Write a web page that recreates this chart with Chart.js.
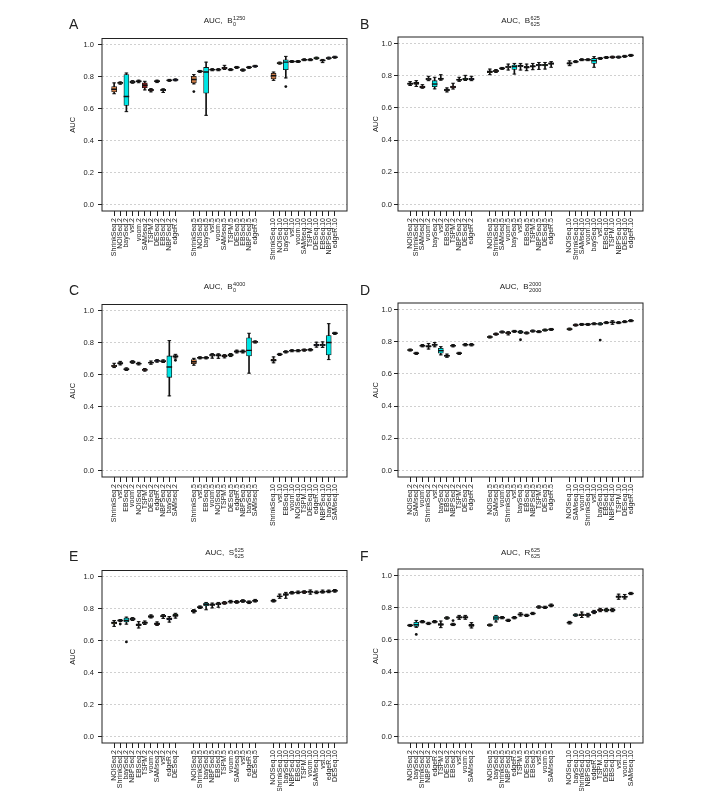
<!doctype html>
<html>
<head>
<meta charset="utf-8">
<title>AUC boxplots</title>
<script src="https://cdn.jsdelivr.net/npm/chart.js@4.4.0/dist/chart.umd.min.js"></script>
<style>
  html, body { margin: 0; padding: 0; background: #fff; overflow: hidden; }
  body { width: 719px; height: 791px; position: relative; font-family: "Liberation Sans", Arial, Helvetica, sans-serif; color: #222; }
  canvas { position: absolute; }
  .letter { position: absolute; font-size: 14px; line-height: 14px; }
  .ttl { position: absolute; font-size: 8px; line-height: 8px; white-space: nowrap; transform: translateX(-50%); }
  .ss { display: inline-block; vertical-align: middle; font-size: 5.5px; line-height: 6px; margin-left: 0.5px; }
  .ss span { display: block; }
</style>
</head>
<body>
<script>
// group suffixes shown after each method name
const sizes = ['2', '5', '10'];
const yTicks = [0, 0.2, 0.4, 0.6, 0.8, 1.0];

// box stats per method: [lower whisker, q1, median, q3, upper whisker]
const methodsA = ['ShrinkSeq', 'NOISeq', 'baySeq', 'vst', 'voom', 'SAMseq', 'TSPM', 'DESeq', 'EBSeq', 'NBPSeq', 'edgeR'];
const statsA = [
  [0.694, 0.706, 0.722, 0.739, 0.762], [0.754, 0.758, 0.762, 0.765, 0.768], [0.582, 0.621, 0.677, 0.814, 0.824],
  [0.760, 0.764, 0.768, 0.772, 0.776], [0.763, 0.768, 0.772, 0.775, 0.779], [0.718, 0.731, 0.747, 0.762, 0.772],
  [0.706, 0.712, 0.718, 0.722, 0.726], [0.764, 0.768, 0.772, 0.776, 0.779], [0.702, 0.712, 0.718, 0.721, 0.725],
  [0.772, 0.775, 0.778, 0.781, 0.784], [0.775, 0.778, 0.781, 0.784, 0.787],
  [0.756, 0.762, 0.783, 0.803, 0.814], [0.828, 0.831, 0.834, 0.837, 0.840], [0.559, 0.698, 0.830, 0.859, 0.892],
  [0.838, 0.842, 0.845, 0.848, 0.851], [0.838, 0.842, 0.845, 0.848, 0.851], [0.846, 0.851, 0.855, 0.859, 0.872],
  [0.839, 0.842, 0.845, 0.848, 0.851], [0.853, 0.856, 0.859, 0.862, 0.865], [0.836, 0.840, 0.843, 0.846, 0.849],
  [0.853, 0.856, 0.859, 0.862, 0.865], [0.861, 0.864, 0.867, 0.869, 0.872],
  [0.778, 0.787, 0.807, 0.822, 0.830], [0.880, 0.883, 0.886, 0.889, 0.892], [0.793, 0.845, 0.892, 0.907, 0.928],
  [0.890, 0.893, 0.896, 0.899, 0.902], [0.890, 0.893, 0.896, 0.899, 0.902], [0.901, 0.904, 0.907, 0.910, 0.913],
  [0.901, 0.904, 0.907, 0.910, 0.913], [0.911, 0.914, 0.917, 0.920, 0.923], [0.889, 0.898, 0.903, 0.906, 0.909],
  [0.911, 0.914, 0.917, 0.920, 0.923], [0.917, 0.920, 0.923, 0.926, 0.929]
];
const outliersA = [[11, 0.708], [24, 0.739]];

const methodsB = ['NOISeq', 'ShrinkSeq', 'SAMseq', 'voom', 'baySeq', 'vst', 'EBSeq', 'TSPM', 'NBPSeq', 'DESeq', 'edgeR'];
const statsB = [
  [0.739, 0.745, 0.750, 0.756, 0.763], [0.733, 0.745, 0.753, 0.758, 0.769], [0.722, 0.726, 0.730, 0.735, 0.744],
  [0.769, 0.774, 0.779, 0.783, 0.796], [0.718, 0.732, 0.748, 0.769, 0.790], [0.772, 0.777, 0.781, 0.785, 0.806],
  [0.699, 0.705, 0.711, 0.716, 0.724], [0.717, 0.724, 0.730, 0.736, 0.753], [0.765, 0.771, 0.775, 0.779, 0.790],
  [0.770, 0.775, 0.779, 0.783, 0.802], [0.769, 0.774, 0.779, 0.783, 0.796],
  [0.806, 0.819, 0.825, 0.830, 0.841], [0.820, 0.825, 0.829, 0.833, 0.838], [0.839, 0.842, 0.845, 0.848, 0.851],
  [0.835, 0.848, 0.854, 0.860, 0.872], [0.810, 0.839, 0.856, 0.866, 0.876], [0.835, 0.856, 0.862, 0.866, 0.876],
  [0.831, 0.846, 0.852, 0.858, 0.872], [0.837, 0.852, 0.858, 0.863, 0.876], [0.839, 0.860, 0.866, 0.870, 0.882],
  [0.841, 0.860, 0.866, 0.870, 0.882], [0.852, 0.870, 0.876, 0.880, 0.887],
  [0.862, 0.871, 0.876, 0.881, 0.892], [0.881, 0.884, 0.887, 0.890, 0.893], [0.893, 0.896, 0.899, 0.902, 0.905],
  [0.893, 0.896, 0.899, 0.902, 0.905], [0.852, 0.876, 0.893, 0.907, 0.918], [0.901, 0.904, 0.907, 0.910, 0.913],
  [0.907, 0.910, 0.913, 0.916, 0.919], [0.909, 0.912, 0.915, 0.918, 0.921], [0.909, 0.912, 0.915, 0.918, 0.921],
  [0.914, 0.917, 0.920, 0.923, 0.926], [0.920, 0.923, 0.926, 0.929, 0.932]
];
const outliersB = [];

const methodsC = ['ShrinkSeq', 'vst', 'EBSeq', 'voom', 'NOISeq', 'TSPM', 'DESeq', 'edgeR', 'NBPSeq', 'baySeq', 'SAMseq'];
const statsC = [
  [0.645, 0.651, 0.656, 0.661, 0.672], [0.662, 0.667, 0.672, 0.676, 0.684], [0.627, 0.631, 0.635, 0.639, 0.643],
  [0.672, 0.676, 0.680, 0.684, 0.688], [0.662, 0.666, 0.670, 0.674, 0.678], [0.623, 0.627, 0.631, 0.635, 0.639],
  [0.666, 0.672, 0.676, 0.680, 0.686], [0.679, 0.683, 0.687, 0.691, 0.695], [0.677, 0.681, 0.685, 0.689, 0.693],
  [0.468, 0.584, 0.649, 0.718, 0.814], [0.705, 0.710, 0.714, 0.720, 0.728],
  [0.660, 0.670, 0.682, 0.695, 0.703], [0.700, 0.704, 0.707, 0.710, 0.713], [0.700, 0.704, 0.707, 0.710, 0.713],
  [0.704, 0.716, 0.724, 0.728, 0.732], [0.703, 0.716, 0.722, 0.727, 0.731], [0.706, 0.713, 0.718, 0.722, 0.726],
  [0.714, 0.719, 0.724, 0.728, 0.733], [0.737, 0.742, 0.746, 0.750, 0.754], [0.737, 0.742, 0.746, 0.750, 0.754],
  [0.610, 0.718, 0.753, 0.831, 0.860], [0.799, 0.803, 0.806, 0.809, 0.812],
  [0.675, 0.685, 0.691, 0.697, 0.712], [0.721, 0.725, 0.728, 0.731, 0.734], [0.737, 0.741, 0.744, 0.747, 0.750],
  [0.744, 0.748, 0.751, 0.754, 0.757], [0.744, 0.748, 0.751, 0.754, 0.757], [0.748, 0.752, 0.755, 0.758, 0.761],
  [0.750, 0.754, 0.757, 0.760, 0.763], [0.773, 0.781, 0.786, 0.791, 0.804], [0.771, 0.781, 0.786, 0.791, 0.806],
  [0.695, 0.724, 0.802, 0.845, 0.920], [0.853, 0.857, 0.860, 0.863, 0.866]
];
const outliersC = [[10, 0.691]];

const methodsD = ['NOISeq', 'SAMseq', 'voom', 'ShrinkSeq', 'vst', 'baySeq', 'EBSeq', 'NBPSeq', 'TSPM', 'DESeq', 'edgeR'];
const statsD = [
  [0.742, 0.745, 0.748, 0.751, 0.754], [0.721, 0.725, 0.728, 0.731, 0.734], [0.768, 0.772, 0.775, 0.778, 0.782],
  [0.754, 0.766, 0.771, 0.776, 0.789], [0.768, 0.777, 0.781, 0.785, 0.795], [0.718, 0.728, 0.744, 0.759, 0.769],
  [0.703, 0.709, 0.713, 0.717, 0.723], [0.768, 0.772, 0.775, 0.778, 0.782], [0.721, 0.725, 0.728, 0.731, 0.734],
  [0.774, 0.778, 0.781, 0.784, 0.788], [0.774, 0.778, 0.781, 0.784, 0.788],
  [0.823, 0.826, 0.829, 0.832, 0.835], [0.841, 0.844, 0.847, 0.850, 0.853], [0.854, 0.857, 0.860, 0.863, 0.866],
  [0.842, 0.850, 0.854, 0.858, 0.862], [0.858, 0.861, 0.864, 0.867, 0.870], [0.852, 0.856, 0.860, 0.864, 0.868],
  [0.848, 0.851, 0.854, 0.857, 0.860], [0.860, 0.863, 0.866, 0.869, 0.872], [0.856, 0.859, 0.862, 0.865, 0.868],
  [0.866, 0.869, 0.872, 0.875, 0.878], [0.870, 0.873, 0.876, 0.879, 0.882],
  [0.872, 0.875, 0.878, 0.881, 0.884], [0.897, 0.900, 0.903, 0.906, 0.909], [0.901, 0.904, 0.907, 0.910, 0.913],
  [0.901, 0.904, 0.907, 0.910, 0.913], [0.905, 0.908, 0.911, 0.914, 0.917], [0.904, 0.907, 0.910, 0.914, 0.917],
  [0.912, 0.915, 0.918, 0.921, 0.924], [0.908, 0.916, 0.920, 0.923, 0.930], [0.912, 0.915, 0.918, 0.921, 0.924],
  [0.918, 0.921, 0.924, 0.927, 0.930], [0.924, 0.927, 0.930, 0.933, 0.936]
];
const outliersD = [[16, 0.812], [27, 0.810]];

const methodsE = ['NOISeq', 'ShrinkSeq', 'baySeq', 'NBPSeq', 'EBSeq', 'TSPM', 'voom', 'SAMseq', 'vst', 'edgeR', 'DESeq'];
const statsE = [
  [0.690, 0.706, 0.713, 0.719, 0.727], [0.721, 0.724, 0.727, 0.730, 0.733], [0.704, 0.718, 0.727, 0.742, 0.748],
  [0.727, 0.731, 0.736, 0.741, 0.745], [0.680, 0.694, 0.700, 0.706, 0.720], [0.702, 0.708, 0.713, 0.718, 0.724],
  [0.743, 0.747, 0.752, 0.757, 0.762], [0.696, 0.701, 0.707, 0.713, 0.718], [0.740, 0.749, 0.754, 0.759, 0.764],
  [0.717, 0.731, 0.738, 0.744, 0.752], [0.742, 0.752, 0.758, 0.766, 0.772],
  [0.775, 0.780, 0.785, 0.790, 0.795], [0.802, 0.806, 0.810, 0.814, 0.818], [0.794, 0.820, 0.829, 0.836, 0.840],
  [0.806, 0.821, 0.826, 0.831, 0.836], [0.810, 0.826, 0.831, 0.836, 0.840], [0.829, 0.833, 0.837, 0.841, 0.845],
  [0.837, 0.841, 0.845, 0.849, 0.853], [0.835, 0.839, 0.843, 0.847, 0.851], [0.841, 0.845, 0.849, 0.853, 0.857],
  [0.833, 0.837, 0.841, 0.845, 0.849], [0.843, 0.847, 0.851, 0.855, 0.859],
  [0.843, 0.847, 0.851, 0.855, 0.859], [0.866, 0.874, 0.878, 0.882, 0.892], [0.866, 0.884, 0.890, 0.895, 0.903],
  [0.893, 0.897, 0.901, 0.905, 0.909], [0.895, 0.899, 0.903, 0.907, 0.911], [0.897, 0.901, 0.905, 0.909, 0.913],
  [0.892, 0.902, 0.907, 0.911, 0.918], [0.895, 0.899, 0.903, 0.907, 0.911], [0.899, 0.903, 0.907, 0.911, 0.917],
  [0.901, 0.905, 0.909, 0.913, 0.917], [0.905, 0.909, 0.913, 0.917, 0.921]
];
const outliersE = [[1, 0.705], [2, 0.593]];

const methodsF = ['NOISeq', 'baySeq', 'ShrinkSeq', 'NBPSeq', 'edgeR', 'TSPM', 'DESeq', 'EBSeq', 'vst', 'voom', 'SAMseq'];
const statsF = [
  [0.684, 0.687, 0.690, 0.693, 0.696], [0.678, 0.684, 0.694, 0.709, 0.721], [0.706, 0.709, 0.713, 0.717, 0.720],
  [0.695, 0.699, 0.702, 0.705, 0.709], [0.706, 0.709, 0.713, 0.717, 0.720], [0.676, 0.690, 0.696, 0.702, 0.717],
  [0.729, 0.733, 0.736, 0.739, 0.743], [0.689, 0.692, 0.696, 0.700, 0.703], [0.728, 0.735, 0.740, 0.745, 0.752],
  [0.728, 0.735, 0.740, 0.745, 0.752], [0.674, 0.684, 0.690, 0.696, 0.707],
  [0.686, 0.689, 0.692, 0.695, 0.698], [0.711, 0.723, 0.736, 0.748, 0.752], [0.731, 0.735, 0.738, 0.741, 0.745],
  [0.714, 0.718, 0.721, 0.724, 0.728], [0.731, 0.735, 0.738, 0.741, 0.745], [0.748, 0.754, 0.758, 0.762, 0.768],
  [0.745, 0.749, 0.752, 0.755, 0.759], [0.757, 0.761, 0.764, 0.767, 0.771], [0.797, 0.801, 0.804, 0.807, 0.811],
  [0.795, 0.799, 0.802, 0.805, 0.809], [0.806, 0.810, 0.814, 0.818, 0.822],
  [0.699, 0.703, 0.707, 0.711, 0.715], [0.747, 0.751, 0.754, 0.757, 0.761], [0.739, 0.750, 0.756, 0.762, 0.773],
  [0.743, 0.750, 0.754, 0.758, 0.765], [0.763, 0.769, 0.773, 0.777, 0.783], [0.775, 0.780, 0.785, 0.790, 0.796],
  [0.775, 0.780, 0.785, 0.790, 0.796], [0.775, 0.780, 0.785, 0.790, 0.796], [0.852, 0.863, 0.868, 0.873, 0.884],
  [0.854, 0.864, 0.868, 0.872, 0.882], [0.881, 0.885, 0.888, 0.891, 0.895]
];
const outliersF = [[1, 0.634], [7, 0.720]];

// fill colour of each method's box
const methodColors = {
  ShrinkSeq: '#d2804a', NOISeq: '#8c7b2c', baySeq: '#00e5e5', vst: '#7a7a7a', voom: '#9a9a9a',
  SAMseq: '#8b1c1c', TSPM: '#b03030', DESeq: '#2e8b2e', EBSeq: '#505050', NBPSeq: '#6a80a0', edgeR: '#1f1f8c'
};

const panels = [
  { letter: 'A', col: 0, row: 0, methods: methodsA, stats: statsA, outliers: outliersA, sym: 'B', sup: '1250', sub: '0' },
  { letter: 'B', col: 1, row: 0, methods: methodsB, stats: statsB, outliers: outliersB, sym: 'B', sup: '625', sub: '625' },
  { letter: 'C', col: 0, row: 1, methods: methodsC, stats: statsC, outliers: outliersC, sym: 'B', sup: '4000', sub: '0' },
  { letter: 'D', col: 1, row: 1, methods: methodsD, stats: statsD, outliers: outliersD, sym: 'B', sup: '2000', sub: '2000' },
  { letter: 'E', col: 0, row: 2, methods: methodsE, stats: statsE, outliers: outliersE, sym: 'S', sup: '625', sub: '625' },
  { letter: 'F', col: 1, row: 2, methods: methodsF, stats: statsF, outliers: outliersF, sym: 'R', sup: '625', sub: '625' }
];

const colLeft = [58, 354];
const rowTop = [30, 296, 562];
// the right-hand column sits a little tighter to its axis
const tickPad = [4, 2], titlePad = [10, 17];
const W = 300, H = 232, axisW = 44, axisH = 51, padTop = 7, padRight = 11;

Chart.defaults.font.family = '"Liberation Sans", Arial, Helvetica, sans-serif';
Chart.defaults.color = '#222';

// full box around the plotting region, like R's box()
const framePlugin = {
  id: 'frame',
  afterDatasetsDraw(chart) {
    const { ctx, chartArea: a } = chart;
    ctx.save();
    ctx.strokeStyle = '#222';
    ctx.lineWidth = 1;
    ctx.strokeRect(a.left, a.top, a.right - a.left, a.bottom - a.top);
    ctx.restore();
  }
};

function addText(cls, html, x, y) {
  const d = document.createElement('div');
  d.className = cls;
  d.innerHTML = html;
  d.style.left = x + 'px';
  d.style.top = y + 'px';
  document.body.appendChild(d);
}

panels.forEach(function (p) {
  const left = colLeft[p.col], top = rowTop[p.row];
  const canvas = document.createElement('canvas');
  canvas.width = W; canvas.height = H;
  canvas.style.left = left + 'px'; canvas.style.top = top + 'px';
  document.body.appendChild(canvas);

  addText('letter', p.letter, left + 11 - (p.col ? 5 : 0), top - 13);
  const cx = left + axisW + (W - axisW - padRight) / 2;
  addText('ttl', 'AUC,&nbsp; ' + p.sym + '<span class="ss"><span>' + p.sup + '</span><span>' + p.sub + '</span></span>', cx, top - 15);

  const xs = [], labels = [], fills = [];
  sizes.forEach(function (s, g) {
    p.methods.forEach(function (m, k) {
      xs.push(g * 13 + k + 1);
      labels.push(m + '.' + s);
      fills.push(methodColors[m]);
    });
  });

  const whisk = p.stats.map((b, i) => ({ x: xs[i], y: [b[0], b[4]] }));
  const box = p.stats.map((b, i) => ({ x: xs[i], y: [b[1], b[3]] }));
  const med = p.stats.map((b, i) => ({ x: xs[i], y: b[2] }));
  const caps = [];
  p.stats.forEach((b, i) => { caps.push({ x: xs[i], y: b[0] }, { x: xs[i], y: b[4] }); });
  const outs = p.outliers.map(o => ({ x: xs[o[0]], y: o[1] }));

  new Chart(canvas, {
    type: 'bar',
    data: {
      datasets: [
        { type: 'scatter', data: outs, pointStyle: 'circle', pointRadius: 1.4, backgroundColor: '#111', borderWidth: 0 },
        { type: 'scatter', data: med, pointStyle: 'line', pointRadius: 2.8, borderColor: '#111', borderWidth: 1.4 },
        { type: 'bar', data: box, backgroundColor: fills, borderColor: '#111', borderWidth: 0.8, borderSkipped: false, barThickness: 5, grouped: false },
        { type: 'scatter', data: caps, pointStyle: 'line', pointRadius: 1.8, borderColor: '#111', borderWidth: 1 },
        { type: 'bar', data: whisk, backgroundColor: '#111', borderWidth: 0, barThickness: 1, grouped: false }
      ]
    },
    options: {
      responsive: false,
      animation: false,
      events: [],
      layout: { padding: { left: 0, right: padRight, top: padTop, bottom: 0 } },
      plugins: { legend: { display: false }, tooltip: { enabled: false } },
      scales: {
        x: {
          type: 'linear', min: -0.98, max: 38.98, offset: false,
          afterBuildTicks: s => { s.ticks = xs.map(v => ({ value: v })); },
          afterFit: s => { s.height = axisH; },
          grid: { display: true, offset: false, drawOnChartArea: false, drawTicks: true, tickLength: 5, tickColor: '#222', tickWidth: 1 },
          border: { display: false },
          ticks: { autoSkip: false, maxRotation: 90, minRotation: 90, padding: 2, color: '#222', font: { size: 7 }, callback: (v, i) => labels[i] }
        },
        y: {
          min: -0.04, max: 1.04,
          afterBuildTicks: s => { s.ticks = yTicks.map(v => ({ value: v })); },
          afterFit: s => { s.width = axisW; },
          grid: { color: '#c4c4c4', lineWidth: 0.8, drawTicks: true, tickLength: 4, tickColor: '#222', tickWidth: 1 },
          border: { display: false, dash: [2, 2] },
          ticks: { padding: tickPad[p.col], color: '#222', font: { size: 7.5 }, callback: v => v.toFixed(1) },
          title: { display: true, text: 'AUC', color: '#222', font: { size: 7.5 }, padding: { top: titlePad[p.col], bottom: 0 } }
        }
      }
    },
    plugins: [framePlugin]
  });
});
</script>
</body>
</html>
